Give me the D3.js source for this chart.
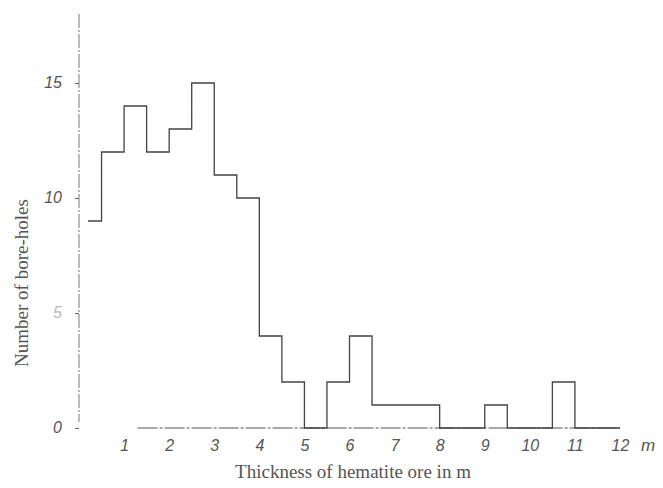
<!DOCTYPE html>
<html><head><meta charset="utf-8">
<script src="https://cdn.jsdelivr.net/npm/d3@7"></script>
<style>body{margin:0;background:#fff}</style>
</head><body><svg id="c" width="663" height="488"></svg>
<script>
// bin start (m), bin end (m), number of bore-holes
const binStart = [0.2,0.5,1.0,1.5,2.0,2.5,3.0,3.5,4.0,4.5,5.0,5.5,6.0,6.5,7.0,7.5,8.0,8.5,9.0,9.5,10.0,10.5,11.0,11.5];
const binEnd   = [0.5,1.0,1.5,2.0,2.5,3.0,3.5,4.0,4.5,5.0,5.5,6.0,6.5,7.0,7.5,8.0,8.5,9.0,9.5,10.0,10.5,11.0,11.5,12.0];
const counts   = [9,12,14,12,13,15,11,10,4,2,0,2,4,1,1,1,0,0,1,0,0,2,0,0];
const xTicks = [1,2,3,4,5,6,7,8,9,10,11,12];
const yTicks = [0,5,10,15];
const xTitle = "Thickness of hematite ore in m";
const yTitle = "Number of bore-holes";
const unitLabel = "m";

const svg = d3.select("#c");
const x = d3.scaleLinear().domain([0,12]).range([79,620]);
const y = d3.scaleLinear().domain([0,18]).range([428,14]);

// y axis
const yAx = svg.append("g").attr("transform",`translate(${x(0)},0)`)
  .call(d3.axisLeft(y).tickValues(yTicks).tickSize(4).tickPadding(13).tickFormat(d3.format("d")));
yAx.select(".domain").remove();
yAx.selectAll(".tick line").attr("stroke","#666");
yAx.selectAll(".tick text").attr("font-family","Liberation Sans, sans-serif").attr("font-style","italic")
  .attr("font-size",16).attr("fill",d=>d===5?"#bbb":"#555").attr("dy","0.3em");
svg.append("line").attr("x1",x(0)).attr("x2",x(0)).attr("y1",y(18)).attr("y2",y(0)-6)
  .attr("stroke","#777").attr("stroke-width",1).attr("stroke-dasharray","14,2,2,2");

// baseline
svg.append("line").attr("x1",x(1.3)).attr("x2",x(12)).attr("y1",y(0)).attr("y2",y(0))
  .attr("stroke","#555").attr("stroke-width",1.1).attr("stroke-dasharray","20,2,3,2");

// x axis labels
const xAx = svg.append("g").attr("transform",`translate(0,${y(0)})`)
  .call(d3.axisBottom(x).tickValues(xTicks).tickSize(0).tickPadding(12).tickFormat(d3.format("d")));
xAx.select(".domain").remove();
xAx.selectAll(".tick text").attr("font-family","Liberation Sans, sans-serif").attr("font-style","italic")
  .attr("font-size",16).attr("fill","#555");
svg.append("text").attr("x",x(12)+28).attr("y",y(0)+23).attr("text-anchor","middle")
  .attr("font-family","Liberation Sans, sans-serif").attr("font-style","italic").attr("font-size",17)
  .attr("fill","#555").text(unitLabel);

// histogram outline
const pts = binStart.map((s,i)=>[s,counts[i]]);
pts.push([binEnd[binEnd.length-1], counts[counts.length-1]]);
const line = d3.line().x(d=>x(d[0])).y(d=>y(d[1])).curve(d3.curveStepAfter);
svg.append("path").attr("d",line(pts)).attr("fill","none").attr("stroke","#444").attr("stroke-width",1.3);

// titles
svg.append("text").attr("x",353).attr("y",478).attr("text-anchor","middle")
  .attr("font-family","Liberation Serif, serif").attr("font-size",19).attr("fill","#555").text(xTitle);
svg.append("text").attr("transform","translate(28,283) rotate(-90)").attr("text-anchor","middle")
  .attr("font-family","Liberation Serif, serif").attr("font-size",19).attr("fill","#555").text(yTitle);
</script></body></html>
